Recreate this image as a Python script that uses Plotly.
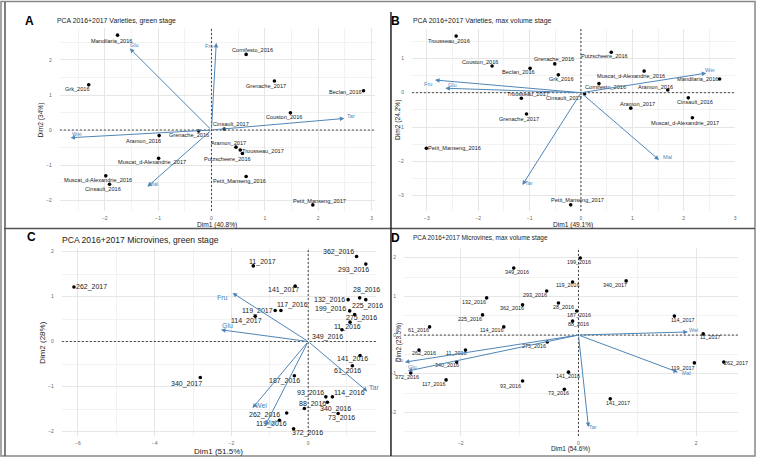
import plotly.graph_objects as go

W, H = 758, 457
FONT = "Liberation Sans, Arial, sans-serif"
ARROW_COL = "#4F86B8"

# ---------------- Panel A : Varieties, green stage ----------------
a_names = ["Mandilaria_2016", "Grk_2016", "Cornifesto_2016", "Grenache_2017", "Beclan_2016",
           "Couston_2016", "Cinsault_2017", "Grenache_2016", "Aramon_2016", "Aramon_2017",
           "Trousseau_2017", "Putzscheere_2016", "Muscat_d-Alexandrie_2017",
           "Muscat_d-Alexandrie_2016", "Cinsault_2016", "Petit_Manseng_2016", "Petit_Manseng_2017"]
a_x = [-1.76, -2.30, 0.65, 1.18, 2.85, 1.48, 0.24, -0.24, -0.98, 0.46, 0.54, 0.58, -0.99,
       -1.98, -1.91, 0.65, 1.90]
a_y = [2.71, 1.29, 2.16, 1.40, 1.12, 0.49, 0.03, -0.03, -0.16, -0.49, -0.57, -0.67, -0.81,
       -1.31, -1.55, -1.33, -2.14]
a_vars = ["Glu", "Fru", "Tar", "Wei", "Mal"]
a_vx = [-1.53, 0.09, 2.49, -2.64, -1.20]
a_vy = [2.33, 2.49, 0.33, -0.22, -1.62]

# ---------------- Panel B : Varieties, max volume stage ----------------
b_names = ["Trousseau_2016", "Couston_2016", "Grenache_2016", "Beclan_2016", "Grk_2016",
           "Trousseau_2017", "Cinsault_2017", "Putzscheere_2016", "Muscat_d-Alexandrie_2016",
           "Mandilaria_2016", "Cornifesto_2016", "Aramon_2016", "Aramon_2017", "Cinsault_2016",
           "Muscat_d-Alexandrie_2017", "Grenache_2017", "Petit_Manseng_2016", "Petit_Manseng_2017"]
b_x = [-2.43, -1.73, -0.51, -0.99, -0.44, -1.16, 0.07, 0.59, 1.23, 2.70, 0.35, 1.69, 0.97,
       2.09, 2.17, -1.06, -3.01, -0.20]
b_y = [1.65, 0.78, 0.84, 0.71, 0.52, -0.16, -0.04, 1.18, 0.63, 0.40, 0.27, 0.08, -0.45,
       -0.15, -0.73, -0.62, -1.62, -3.27]
b_vars = ["Fru", "Glu", "Wei", "Mal", "Tar"]
b_vx = [-2.84, -2.64, 2.44, 1.52, -1.14]
b_vy = [0.37, 0.13, 0.57, -1.96, -2.69]

# ---------------- Panel C : Microvines, green stage ----------------
c_names = ["262_2017", "11_2017", "362_2016", "293_2016", "141_2017", "28_2016", "132_2016",
           "225_2016", "117_2016", "119_2017", "199_2016", "114_2017", "275_2016", "11_2016",
           "349_2016", "340_2017", "141_2016", "61_2016", "187_2016", "93_2016", "114_2016",
           "88_2016", "340_2016", "73_2016", "262_2016", "119_2016", "372_2016"]
c_x = [-6.10, -1.43, 1.26, 1.50, -0.34, 1.34, 1.04, 1.50, -0.71, -0.86, 1.08, -1.38, 1.21,
       1.09, 0.88, -2.81, 1.35, 1.15, -0.36, 0.46, 0.63, -0.10, 0.50, 0.78, -0.56, -0.75, -0.38]
c_y = [1.21, 1.68, 1.89, 1.72, 1.23, 0.97, 0.93, 0.93, 0.69, 0.69, 0.68, 0.56, 0.60, 0.43,
       0.26, -0.80, -0.31, -0.54, -0.76, -1.23, -1.23, -1.49, -1.35, -1.60, -1.59, -1.75, -1.94]
c_vars = ["Fru", "Glu", "Tar", "Wei", "Mal"]
c_vx = [-1.97, -2.27, 1.54, -1.45, -1.12]
c_vy = [1.08, 0.26, -1.11, -1.48, -1.87]

# ---------------- Panel D : Microvines, max volume stage ----------------
d_names = ["199_2016", "349_2016", "119_2016", "340_2017", "293_2016", "132_2016", "28_2016",
           "362_2016", "187_2016", "225_2016", "88_2016", "114_2017", "61_2016", "114_2016",
           "11_2017", "275_2016", "262_2016", "11_2016", "340_2016", "372_2016", "119_2017",
           "262_2017", "117_2016", "93_2016", "141_2016", "73_2016", "141_2017"]
d_x = [0.03, -1.10, -0.10, 0.81, -0.54, -1.56, -0.34, -0.95, -0.03, -1.63, -0.10, 1.63,
       -2.53, -1.27, 2.12, -0.53, -2.71, -1.92, -2.07, -2.85, 1.97, 2.47, -2.25, -0.95,
       -0.17, -0.24, 0.54]
d_y = [1.99, 1.73, 1.37, 1.40, 1.14, 0.96, 0.83, 0.78, 0.62, 0.52, 0.36, 0.49, 0.21, 0.21,
       0.03, -0.18, -0.39, -0.39, -0.70, -0.98, -0.72, -0.70, -1.16, -1.19, -0.96, -1.40, -1.65]
d_vars = ["Wei", "Fru", "Glu", "Mal", "Tar"]
d_vx = [1.86, -2.95, -2.90, 1.69, 0.17]
d_vy = [0.08, -0.70, -0.93, -0.96, -2.38]

# ---------------- label offsets (pixels: right, up) ----------------
a_dx = [-6, -11, 6, -8, -18, -6, 7, -10, -16, -7, 23, -15, -7, -8, -7, -7, 7]
a_dy = [-6, -4, 4, -5, -1, -4, 5, -4, -5, 4, -1, -6, -4, -4, -5, -4, 4]
a_vdx = [5, -7, 7, 6, 6]
a_vdy = [3, -3, 2, 4, 3]

b_dx = [-7, -12, -1, -12, 3, 7, -21, -7, -13, -22, 7, -12, 7, 7, -7, -8, 28, 7]
b_dy = [-5, 4, 5, -4, -4, 4, -4, -4, -5, 0, -4, 3, 4, -4, -5, -5, 0, 5]
b_vdx = [-7, 7, 4, 8, 7]
b_vdy = [-4, 3, 3, 3, 2]

c_dx = [18, 9, -18, -12, -12, 7, -19, 2, 12, -18, -19, -9, 7, -3, -14, -14, -8, -5, -10,
        -15, 17, 8, 8, 3, -22, -8, 14]
c_dy = [0, 4, 4, -6, -4, 8, 0, -6, 5, -1, 2, -5, -3, -5, -7, -6, -4, -5, -5, 4, 4, 5,
        -7, -4, -2, -4, -4]
c_vdx = [-10, 6, 7, 8, 6]
c_vdy = [-5, 4, 4, 3, 3]

d_dx = [-1, 3, -5, -11, -12, -13, 5, -11, 2, -13, 6, 9, -11, -12, 7, -13, 5, -9, -10, -4,
        -11, 12, -12, -12, 0, -6, 8]
d_dy = [-4, -4, -3, -4, -4, -4, -4, -3, -4, -4, -3, -4, -3, -3, -3, -4, -3, -3, -3, -4,
        -5, -1, -4, -5, -4, -4, -4]
d_vdx = [6, -6, 4, 9, 5]
d_vdy = [2, 2, 4, -1, 0]

# ---------------- panel geometry (pixels) ----------------
panels = [
    dict(key="", l=60, r=376, t=28, b=211, xr=[-2.841, 3.065], yr=[-2.314, 2.914],
         xd=1, yd=1, names=a_names, x=a_x, y=a_y, vars=a_vars, vx=a_vx, vy=a_vy,
         dx=a_dx, dy=a_dy, vdx=a_vdx, vdy=a_vdy, lab=5.6,
         title="PCA 2016+2017 Varieties, green stage", tsize=6.9, tx=55, ty=21,
         letter="A", lx=30, ly=21, xt="Dim1 (40.8%)", yt="Dim2 (34%)", atsize=6.6,
         xty=224.5, ytx=41),
    dict(key="2", l=413, r=737, t=29, b=211, xr=[-3.291, 3.0], yr=[-3.449, 1.857],
         xd=1, yd=1, names=b_names, x=b_x, y=b_y, vars=b_vars, vx=b_vx, vy=b_vy,
         dx=b_dx, dy=b_dy, vdx=b_vdx, vdy=b_vdy, lab=5.6,
         title="PCA 2016+2017 Varieties, max volume stage", tsize=6.9, tx=412, ty=21,
         letter="B", lx=397, ly=21, xt="Dim1 (49.1%)", yt="Dim2 (24.2%)", atsize=6.6,
         xty=224.5, ytx=399),
    dict(key="3", l=62, r=377, t=248, b=436, xr=[-6.416, 1.766], yr=[-2.1, 2.078],
         xd=2, yd=1, names=c_names, x=c_x, y=c_y, vars=c_vars, vx=c_vx, vy=c_vy,
         dx=c_dx, dy=c_dy, vdx=c_vdx, vdy=c_vdy, lab=7.0,
         title="PCA 2016+2017 Microvines, green stage", tsize=8.6, tx=60, ty=240,
         letter="C", lx=32, ly=237, xt="Dim1 (51.5%)", yt="Dim2 (28%)", atsize=8.0,
         xty=451, ytx=42),
    dict(key="4", l=405, r=740, t=248, b=436, xr=[-2.966, 2.712], yr=[-2.61, 2.25],
         xd=2, yd=1, names=d_names, x=d_x, y=d_y, vars=d_vars, vx=d_vx, vy=d_vy,
         dx=d_dx, dy=d_dy, vdx=d_vdx, vdy=d_vdy, lab=5.4,
         title="PCA 2016+2017 Microvines, max volume stage", tsize=6.4, tx=412, ty=238,
         letter="D", lx=397, ly=238, xt="Dim1 (54.6%)", yt="Dim2 (23.5%)", atsize=6.4,
         xty=449, ytx=400),
]

fig = go.Figure()
annotations = []
shapes = []
layout_axes = {}


def pxx(v):
    return v / W


def pxy(v):
    return 1 - v / H


for p in panels:
    k = p["key"]
    xa = "x" + k
    ya = "y" + k
    common = dict(showline=False, zeroline=False, showgrid=True, gridcolor="#E6E6E6",
                  gridwidth=0.8, tickfont=dict(size=5, color="#666", family=FONT),
                  ticks="outside", tickcolor="rgba(0,0,0,0)", tick0=0)
    layout_axes["xaxis" + k] = dict(common, domain=[pxx(p["l"]), pxx(p["r"])], range=p["xr"],
                                    dtick=p["xd"], ticklen=2, anchor=ya,
                                    minor=dict(dtick=p["xd"] / 2, showgrid=True,
                                               gridcolor="#F2F2F2", gridwidth=0.5))
    layout_axes["yaxis" + k] = dict(common, domain=[pxy(p["b"]), pxy(p["t"])], range=p["yr"],
                                    dtick=p["yd"], ticklen=6, anchor=xa,
                                    minor=dict(dtick=p["yd"] / 2, showgrid=True,
                                               gridcolor="#F2F2F2", gridwidth=0.5))
    shapes.append(dict(type="line", xref=xa, yref=ya + " domain", x0=0, x1=0, y0=0, y1=1,
                       line=dict(color="#444", width=1, dash="2px,2px")))
    shapes.append(dict(type="line", xref=xa + " domain", yref=ya, x0=0, x1=1, y0=0, y1=0,
                       line=dict(color="#444", width=1, dash="2px,2px")))
    fig.add_trace(go.Scatter(x=p["x"], y=p["y"], mode="markers", xaxis=xa, yaxis=ya,
                             marker=dict(size=3.6, color="black"), text=p["names"],
                             hoverinfo="text", showlegend=False))
    for n, x, y, dx, dy in zip(p["names"], p["x"], p["y"], p["dx"], p["dy"]):
        annotations.append(dict(x=x, y=y, xref=xa, yref=ya, text=n, showarrow=False,
                                xshift=dx, yshift=dy,
                                font=dict(size=p["lab"], color="#1a1a1a", family=FONT)))
    for n, x, y, dx, dy in zip(p["vars"], p["vx"], p["vy"], p["vdx"], p["vdy"]):
        annotations.append(dict(x=x, y=y, xref=xa, yref=ya, ax=0, ay=0, axref=xa, ayref=ya,
                                text="", showarrow=True, arrowhead=2, arrowsize=0.9,
                                arrowwidth=1, arrowcolor=ARROW_COL))
        annotations.append(dict(x=x, y=y, xref=xa, yref=ya, text=n, showarrow=False,
                                xshift=dx, yshift=dy,
                                font=dict(size=p["lab"], color=ARROW_COL, family=FONT)))
    annotations.append(dict(x=pxx(p["tx"]), y=pxy(p["ty"]), xref="paper", yref="paper",
                            text=p["title"], showarrow=False, xanchor="left", yanchor="middle",
                            font=dict(size=p["tsize"], color="#222", family=FONT)))
    annotations.append(dict(x=pxx(p["lx"]), y=pxy(p["ly"]), xref="paper", yref="paper",
                            text="<b>" + p["letter"] + "</b>", showarrow=False,
                            xanchor="center", yanchor="middle",
                            font=dict(size=12, color="black", family=FONT)))
    annotations.append(dict(x=pxx((p["l"] + p["r"]) / 2), y=pxy(p["xty"]), xref="paper",
                            yref="paper", text=p["xt"], showarrow=False, xanchor="center",
                            yanchor="middle",
                            font=dict(size=p["atsize"], color="#222", family=FONT)))
    annotations.append(dict(x=pxx(p["ytx"]), y=pxy((p["t"] + p["b"]) / 2), xref="paper",
                            yref="paper", text=p["yt"], showarrow=False, textangle=-90,
                            xanchor="center", yanchor="middle",
                            font=dict(size=p["atsize"], color="#222", family=FONT)))

frame_col = "#555"
shapes += [
    dict(type="rect", xref="paper", yref="paper", x0=pxx(1), x1=pxx(757), y0=pxy(456),
         y1=pxy(1.5), line=dict(color="#888", width=1.5)),
    dict(type="line", xref="paper", yref="paper", x0=pxx(4), x1=pxx(757), y0=pxy(228.5),
         y1=pxy(228.5), line=dict(color=frame_col, width=1.5)),
    dict(type="line", xref="paper", yref="paper", x0=pxx(392), x1=pxx(392), y0=pxy(456),
         y1=pxy(12), line=dict(color="#222", width=1.5)),
    dict(type="line", xref="paper", yref="paper", x0=pxx(5), x1=pxx(5), y0=pxy(456),
         y1=pxy(2), line=dict(color=frame_col, width=1.5)),
]

fig.update_layout(width=W, height=H, margin=dict(l=0, r=0, t=0, b=0),
                  paper_bgcolor="white", plot_bgcolor="white",
                  annotations=annotations, shapes=shapes, showlegend=False,
                  **layout_axes)

fig.write_html("out.html")
